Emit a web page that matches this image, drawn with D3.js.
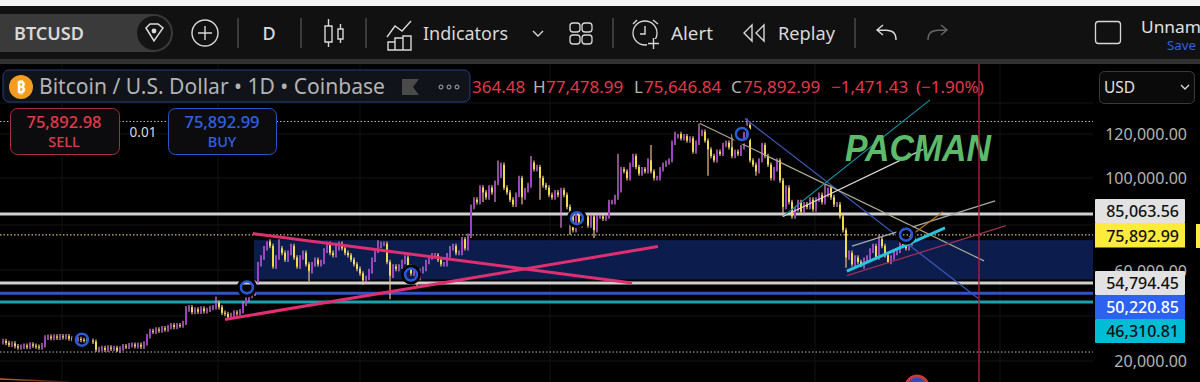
<!DOCTYPE html>
<html><head><meta charset="utf-8">
<script src="https://cdn.jsdelivr.net/npm/d3@7/dist/d3.min.js"></script>
<style>html,body{margin:0;background:#000;overflow:hidden}svg{display:block}text{font-family:"Noto Sans",sans-serif}</style>
</head><body><svg id="c" width="1200" height="382"></svg>
<script>
// closing prices, thousands of USD, one sampled bar each
const closes=[28.4,28.9,28,27.2,27.8,26.6,26,26.4,26.8,26.2,27.4,
26.8,26.4,26,27,30.4,30.8,30.2,30.9,30.4,31,
30.6,31,30,29.8,29.6,29.8,29.4,29.2,29,29,
28.6,25,25.4,25.8,25,26,25.5,25.8,24.6,25.6,
26.6,26.3,27,27.3,26.6,27.2,26.4,27.8,31,33.4,
33,34,33.6,34.6,34,35.2,36,35.2,36,35.8,
37,43,44,41.8,43,42,43.4,42.2,42.8,43.6,
44,46,44,41.5,41,39.5,40.5,41.6,41.2,42.2,
45.5,47.5,49,50,55,63,66,
70,73,71,62,66,70,68,65,68,71,66,62,66,68,63,60,63,65,63,64,69,72,68,67,70,72,70,68,67,65,63,61,59,56,57,60,65,69,71,72,72,64,58,62,61,62,64,66,62,59,60,57,60,61,64,66,67,67,65,63,63,67,70,71,68,68,74,70,75.5,88,
91,90,96,94,92,96,94,98,101,106,96,94,91,89,93,100,92,95,97,107,104,105,100,97,96,93,92,94,93,95,93,88,84,78,86,80,82,84,80,84,78,84,
84,83,84,90,90,92,95,104,103,100,106,110,105,102,104,103,108,103,100,100,104,106,107,108,116,119,120,118,119,117,118,112,116,120,121,117,113,110,108,112,111,115,116,114,110,112,111,114,120,124,108,106,103,108,115,110,106,100,104,108,99,88,96,90,84,87,90,86,89,88,91,87,91,93,90,93,96,92,89,89,84,78,
66,68,63,66,64,62,65,66,69,71,66,74,71,67,64,66,68,69,73,71,70,72,74,75.9];
// long wicks: [bar, price in thousands]
const wickHighs=[[15,31.5],[62,44.5],[72,48.8],[83,48.2],[89,68],[93,74],[112,72.5],[126,73.5],[158,92],[166,108],[177,110],[206,111],[217,115],[226,86],[244,120],[233,124.8],[225,121],[249,127],[254,116],[275,97.5],[276,94],[293,76],[305,77.5]];
const wickLows=[[32,24],[39,24],[103,55.5],[121,54],[130,47.5],[139,53],[161,90],[165,90],[174,89],[180,91],[187,79],[190,76],[198,74.5],[219,99],[236,101],[252,101],[261,84],[282,61.5],[287,62.5],[296,63.5]];
const levels=[85063.56,54794.45,50220.85,46310.81];
const levelNames=["85,063.56","54,794.45","50,220.85","46,310.81"];
const lastPrice=75892.99;
const dottedPrices=[125700,75892.99,24000];
const band=[56300,73600];
const axisTicks=[120000,100000,60000,20000];
// trend lines: [bar, price in thousands] pairs
const pinkLines=[[[84.3,76.5],[210.7,54.8]],[[75,38.5],[219.3,70.8]]];
const thinLines=[
 {c:"#3b56b4",w:1.3,p:[[248.3,127],[326,48]]},
 {c:"#a9a98e",w:1.2,p:[[233.3,124.8],[328,64.5]]},
 {c:"#168c9e",w:1.2,p:[[261,84],[310,135.5]]},
 {c:"#d8d8d8",w:1.2,p:[[261,84],[307.7,113]]},
 {c:"#a8a8a8",w:1.3,p:[[284,71],[331.7,90.5]]},
 {c:"#b57a1e",w:1.2,p:[[303,75],[314.3,86]]},
 {c:"#9c2f55",w:1.3,p:[[282.3,58],[335.3,80]]}];
const cyanLine=[[282.3,60],[315,79]];
const circles=[[27.3,29.5],[82.3,52.8],[137,58.5],[192.3,83.2],[247.3,120],[302,76]];

const W=1200,H=382,RIGHT=1093;
const svg=d3.select("#c");
const x=d3.scaleLinear().domain([0,closes.length-1]).range([0,915]);
const y=d3.scaleLinear().domain([20000,46310.81,54794.45,85063.56,100000,120000]).range([361,302,283,214,178,134]);
const yk=k=>y(k*1000);
const line=d3.line().x(d=>x(d[0])).y(d=>yk(d[1]));
const txt=(t,px,py,s,c,o={})=>{const e=svg.append("text").attr("x",px).attr("y",py).attr("font-size",s).attr("fill",c).text(t);
 for(const k in o)e.attr(k,o[k]);return e;};

// background
svg.append("rect").attr("width",W).attr("height",H).attr("fill","#000");
// grid
[134,178,270,361,103,225,316].forEach(g=>svg.append("line").attr("x1",0).attr("x2",RIGHT).attr("y1",g).attr("y2",g).attr("stroke","#141414"));
[62,218,360,550,815,1000].forEach(g=>svg.append("line").attr("x1",g).attr("x2",g).attr("y1",64).attr("y2",H).attr("stroke","#121212"));
// band
svg.append("rect").attr("x",254).attr("width",RIGHT-254).attr("y",y(band[1])).attr("height",y(band[0])-y(band[1])).attr("fill","#0c1c4d");
// levels
const lvlC=["#cfcfcf","#cfcfcf","#2f55cc","#17a2ad"];
levels.forEach((v,i)=>svg.append("line").attr("x1",0).attr("x2",RIGHT).attr("y1",y(v)).attr("y2",y(v)).attr("stroke",lvlC[i]).attr("stroke-width",i<2?2.8:3));
// dotted
dottedPrices.forEach((v,i)=>svg.append("line").attr("x1",0).attr("x2",RIGHT).attr("y1",y(v)).attr("y2",y(v)).attr("stroke",i==1?"#ffeea0":"#b9b9b9").attr("stroke-width",1).attr("stroke-dasharray","1.5 2"));
// candles
const bars=closes.slice(1).map((c,i)=>({i:i+1,o:closes[i],c}));
const g=svg.append("g");
const hi=new Map(wickHighs),lo=new Map(wickLows);
bars.forEach(b=>{
 const up=b.c>=b.o, col=up?"#a43fc9":"#f4e24d", px=x(b.i);
 const top=Math.max(b.o,b.c),bot=Math.min(b.o,b.c);
 g.append("line").attr("x1",px).attr("x2",px).attr("y1",yk(Math.max(top,hi.get(b.i)||top+1))).attr("y2",yk(Math.min(bot,lo.get(b.i)||bot-1))).attr("stroke",up?"#d58ad8":"#f0c08f").attr("stroke-width",1.2);
 g.append("rect").attr("x",px-0.95).attr("width",1.9).attr("y",yk(top)).attr("height",Math.max(1,yk(bot)-yk(top))).attr("fill",col);
});
// trend lines
pinkLines.forEach(p=>svg.append("path").attr("d",line(p)).attr("stroke","#df2f72").attr("stroke-width",3).attr("fill","none"));
thinLines.forEach(l=>svg.append("path").attr("d",line(l.p)).attr("stroke",l.c).attr("stroke-width",l.w).attr("fill","none"));
svg.append("path").attr("d",line(cyanLine)).attr("stroke","#29c3dc").attr("stroke-width",3).attr("fill","none");
// markers
circles.forEach(p=>{
 svg.append("circle").attr("cx",x(p[0])).attr("cy",yk(p[1])).attr("r",8).attr("fill","none").attr("stroke","#000").attr("stroke-width",4);
 svg.append("circle").attr("cx",x(p[0])).attr("cy",yk(p[1])).attr("r",6).attr("fill","none").attr("stroke","#2a5bd6").attr("stroke-width",2.5);
});
// PACMAN
txt("PACMAN",845,161,37,"#5dba6b",{"font-style":"italic","font-weight":700,textLength:146,lengthAdjust:"spacingAndGlyphs"}).style("font-family","Liberation Sans");
// vertical cursor
svg.append("line").attr("x1",979).attr("x2",979).attr("y1",64).attr("y2",H).attr("stroke","#a81f42").attr("stroke-width",1.4);
// bottom marks
const defs=svg.append("defs").append("linearGradient").attr("id","f");
defs.append("stop").attr("offset",0).attr("stop-color","#c8622a");defs.append("stop").attr("offset",1).attr("stop-color","#2a1206");
svg.append("path").attr("d","M0 379L70 382").attr("stroke","url(#f)").attr("stroke-width",1.5).attr("fill","none");
svg.append("circle").attr("cx",917).attr("cy",387).attr("r",11).attr("fill","#2b4fb0").attr("stroke","#c93a3a").attr("stroke-width",3);

// axis
const axisG=svg.append("g").attr("transform","translate(1187,0)");
const axis=d3.axisLeft(y).tickValues(axisTicks).tickSize(0).tickPadding(0).tickFormat(d3.format(",.2f"));
axisG.call(axis);axisG.select(".domain").remove();
axisG.selectAll("text").attr("font-size",16).attr("fill","#b4b4b4").style("font-family","Noto Sans");
// price labels
const labelBoxes=[[199,"#e2e2e2","#111"],[271,"#e2e2e2","#111"],[295,"#2d62f0","#fff"],[319,"#00bcd4","#111"]];
labelBoxes.forEach((b,i)=>{
 svg.append("rect").attr("x",1095).attr("y",b[0]).attr("width",90).attr("height",24).attr("rx",1).attr("fill",b[1]);
 txt(levelNames[i],1179,b[0]+18,16,b[2],{"text-anchor":"end","font-weight":500});
});
svg.append("rect").attr("x",1095).attr("y",223).attr("width",90).attr("height",24.5).attr("fill","#ffeb3b");
txt(d3.format(",.2f")(lastPrice),1179,241.5,16,"#111",{"text-anchor":"end","font-weight":500});
svg.append("rect").attr("x",1196).attr("y",224).attr("width",4).attr("height",24).attr("fill","#ffeb3b");

// legend row
svg.append("rect").attr("x",3).attr("y",70).attr("width",467).attr("height",32).attr("rx",6).attr("fill","#11131a").attr("stroke","#22407f");
svg.append("circle").attr("cx",21).attr("cy",87).attr("r",12).attr("fill","#f39c1f");
txt("₿",21,93,16,"#fff",{"text-anchor":"middle","font-weight":700});
txt("Bitcoin / U.S. Dollar • 1D • Coinbase",39,94,22,"#b3b3b3",{textLength:346,lengthAdjust:"spacingAndGlyphs"});
svg.append("path").attr("d","M402 79H419L413 87L419 95H402Z").attr("fill","#4a4a4a");
[441,449,457].forEach(c=>svg.append("circle").attr("cx",c).attr("cy",87).attr("r",2).attr("fill","none").attr("stroke","#b0b0b0"));
const red="#e5394b",gr="#b4b4b4";
const ohlc=[["364.48",472,red],["H",533,gr],["77,478.99",546,red],["L",634,gr],["75,646.84",644,red],["C",731,gr],["75,892.99",743,red],["−1,471.43",831,red],["(−1.90%)",916,red]];
ohlc.forEach(o=>txt(o[0],o[1],93,17,o[2]));
// sell/buy
svg.append("rect").attr("x",10.5).attr("y",108.5).attr("width",109).attr("height",46).attr("rx",7).attr("fill","#0c0c0e").attr("stroke","#a2303f");
txt("75,892.98",64,128,16.5,"#e5394b",{"text-anchor":"middle","font-weight":500});
txt("SELL",64,147,14.5,"#e5394b",{"text-anchor":"middle","font-weight":500});
svg.append("rect").attr("x",168.5).attr("y",108.5).attr("width",108).attr("height",46).attr("rx",7).attr("fill","#0c0c0e").attr("stroke","#2a55c8");
txt("75,892.99",222,128,16.5,"#2f62e0",{"text-anchor":"middle","font-weight":500});
txt("BUY",222,147,14.5,"#2f62e0",{"text-anchor":"middle","font-weight":500});
txt("0.01",143,137,13.5,"#d8d8d8",{"text-anchor":"middle"});
// USD
svg.append("rect").attr("x",1099.5).attr("y",71.5).attr("width",95).attr("height",32).attr("rx",5).attr("fill","#0a0a0a").attr("stroke","#3a3a3a");
txt("USD",1104,93,15.5,"#e0e0e0");
svg.append("path").attr("d","M1181 85L1185 89L1189 85").attr("stroke","#ddd").attr("stroke-width",1.3).attr("fill","none");

// toolbar
svg.append("rect").attr("width",W).attr("height",6).attr("fill","#f4f4f4");
svg.append("rect").attr("y",6).attr("width",W).attr("height",53).attr("fill","#111");
svg.append("rect").attr("y",59).attr("width",W).attr("height",5).attr("fill","#303030");
svg.append("rect").attr("x",-20).attr("y",14).attr("width",193).attr("height",38).attr("rx",19).attr("fill","#3a3a3a");
svg.append("circle").attr("cx",154).attr("cy",33).attr("r",17).attr("fill","#141414");
svg.append("path").attr("d","M146 28L150 24H158L163 28L154 41Z").attr("fill","none").attr("stroke","#ddd").attr("stroke-width",1.5);
svg.append("circle").attr("cx",154).attr("cy",31).attr("r",2.4).attr("fill","#ddd");
txt("BTCUSD",14,40,18,"#d8d8d8",{"font-weight":600,textLength:70,lengthAdjust:"spacingAndGlyphs"});
const st=(d,c="#d8d8d8",w=1.4)=>svg.append("path").attr("d",d).attr("fill","none").attr("stroke",c).attr("stroke-width",w);
svg.append("circle").attr("cx",205).attr("cy",33).attr("r",13).attr("fill","none").attr("stroke","#d8d8d8").attr("stroke-width",1.4);
st("M198 33H212M205 26V40");
[238,301,366,613,855].forEach(p=>svg.append("line").attr("x1",p).attr("x2",p).attr("y1",18).attr("y2",48).attr("stroke","#4a4a4a").attr("stroke-width",1.5));
txt("D",269,40,18,"#d8d8d8",{"text-anchor":"middle","font-weight":500});
st("M325 26H332V42H325ZM328.5 19V26M328.5 42V47M338 29H343V39H338ZM340.5 24V29M340.5 39V43");
st("M387 37L395 26L402 31L411 21M388 50V42H395V50ZM395 50V38H403V50ZM403 50V36H411V50Z");
txt("Indicators",423,40,18,"#d8d8d8",{textLength:85,lengthAdjust:"spacingAndGlyphs"});
st("M533 31L538 36L543 31");
[[570,23],[582,23],[570,35],[582,35]].forEach(p=>svg.append("rect").attr("x",p[0]).attr("y",p[1]).attr("width",10).attr("height",9).attr("rx",3).attr("fill","none").attr("stroke","#d8d8d8").attr("stroke-width",1.3));
svg.append("circle").attr("cx",645).attr("cy",33).attr("r",12).attr("fill","none").attr("stroke","#d8d8d8").attr("stroke-width",1.3);
st("M645 26V34H640M633 24L637 20M653 20L658 24");
svg.append("rect").attr("x",647).attr("y",39).attr("width",14).attr("height",10).attr("fill","#111");
st("M648 43.5H659M653.5 38V49");
txt("Alert",671,40,18,"#d8d8d8",{textLength:42,lengthAdjust:"spacingAndGlyphs"});
st("M752 25L744 33L752 41ZM764 25L756 33L764 41Z");
txt("Replay",778,40,18,"#d8d8d8",{textLength:57,lengthAdjust:"spacingAndGlyphs"});
st("M896 40C896 30 890 30 878 30M883 25L877 30L883 35");
st("M928 40C928 30 934 30 947 30M941 25L947 30L941 35","#666");
svg.append("rect").attr("x",1095.5).attr("y",21.5).attr("width",25).attr("height",22).attr("rx",3).attr("fill","none").attr("stroke","#d8d8d8").attr("stroke-width",1.3);
txt("Unnam",1141,33,16.5,"#e0e0e0",{textLength:60,lengthAdjust:"spacingAndGlyphs"});
txt("Save",1167,50,12,"#2f62e0",{textLength:29,lengthAdjust:"spacingAndGlyphs"});
</script></body></html>
